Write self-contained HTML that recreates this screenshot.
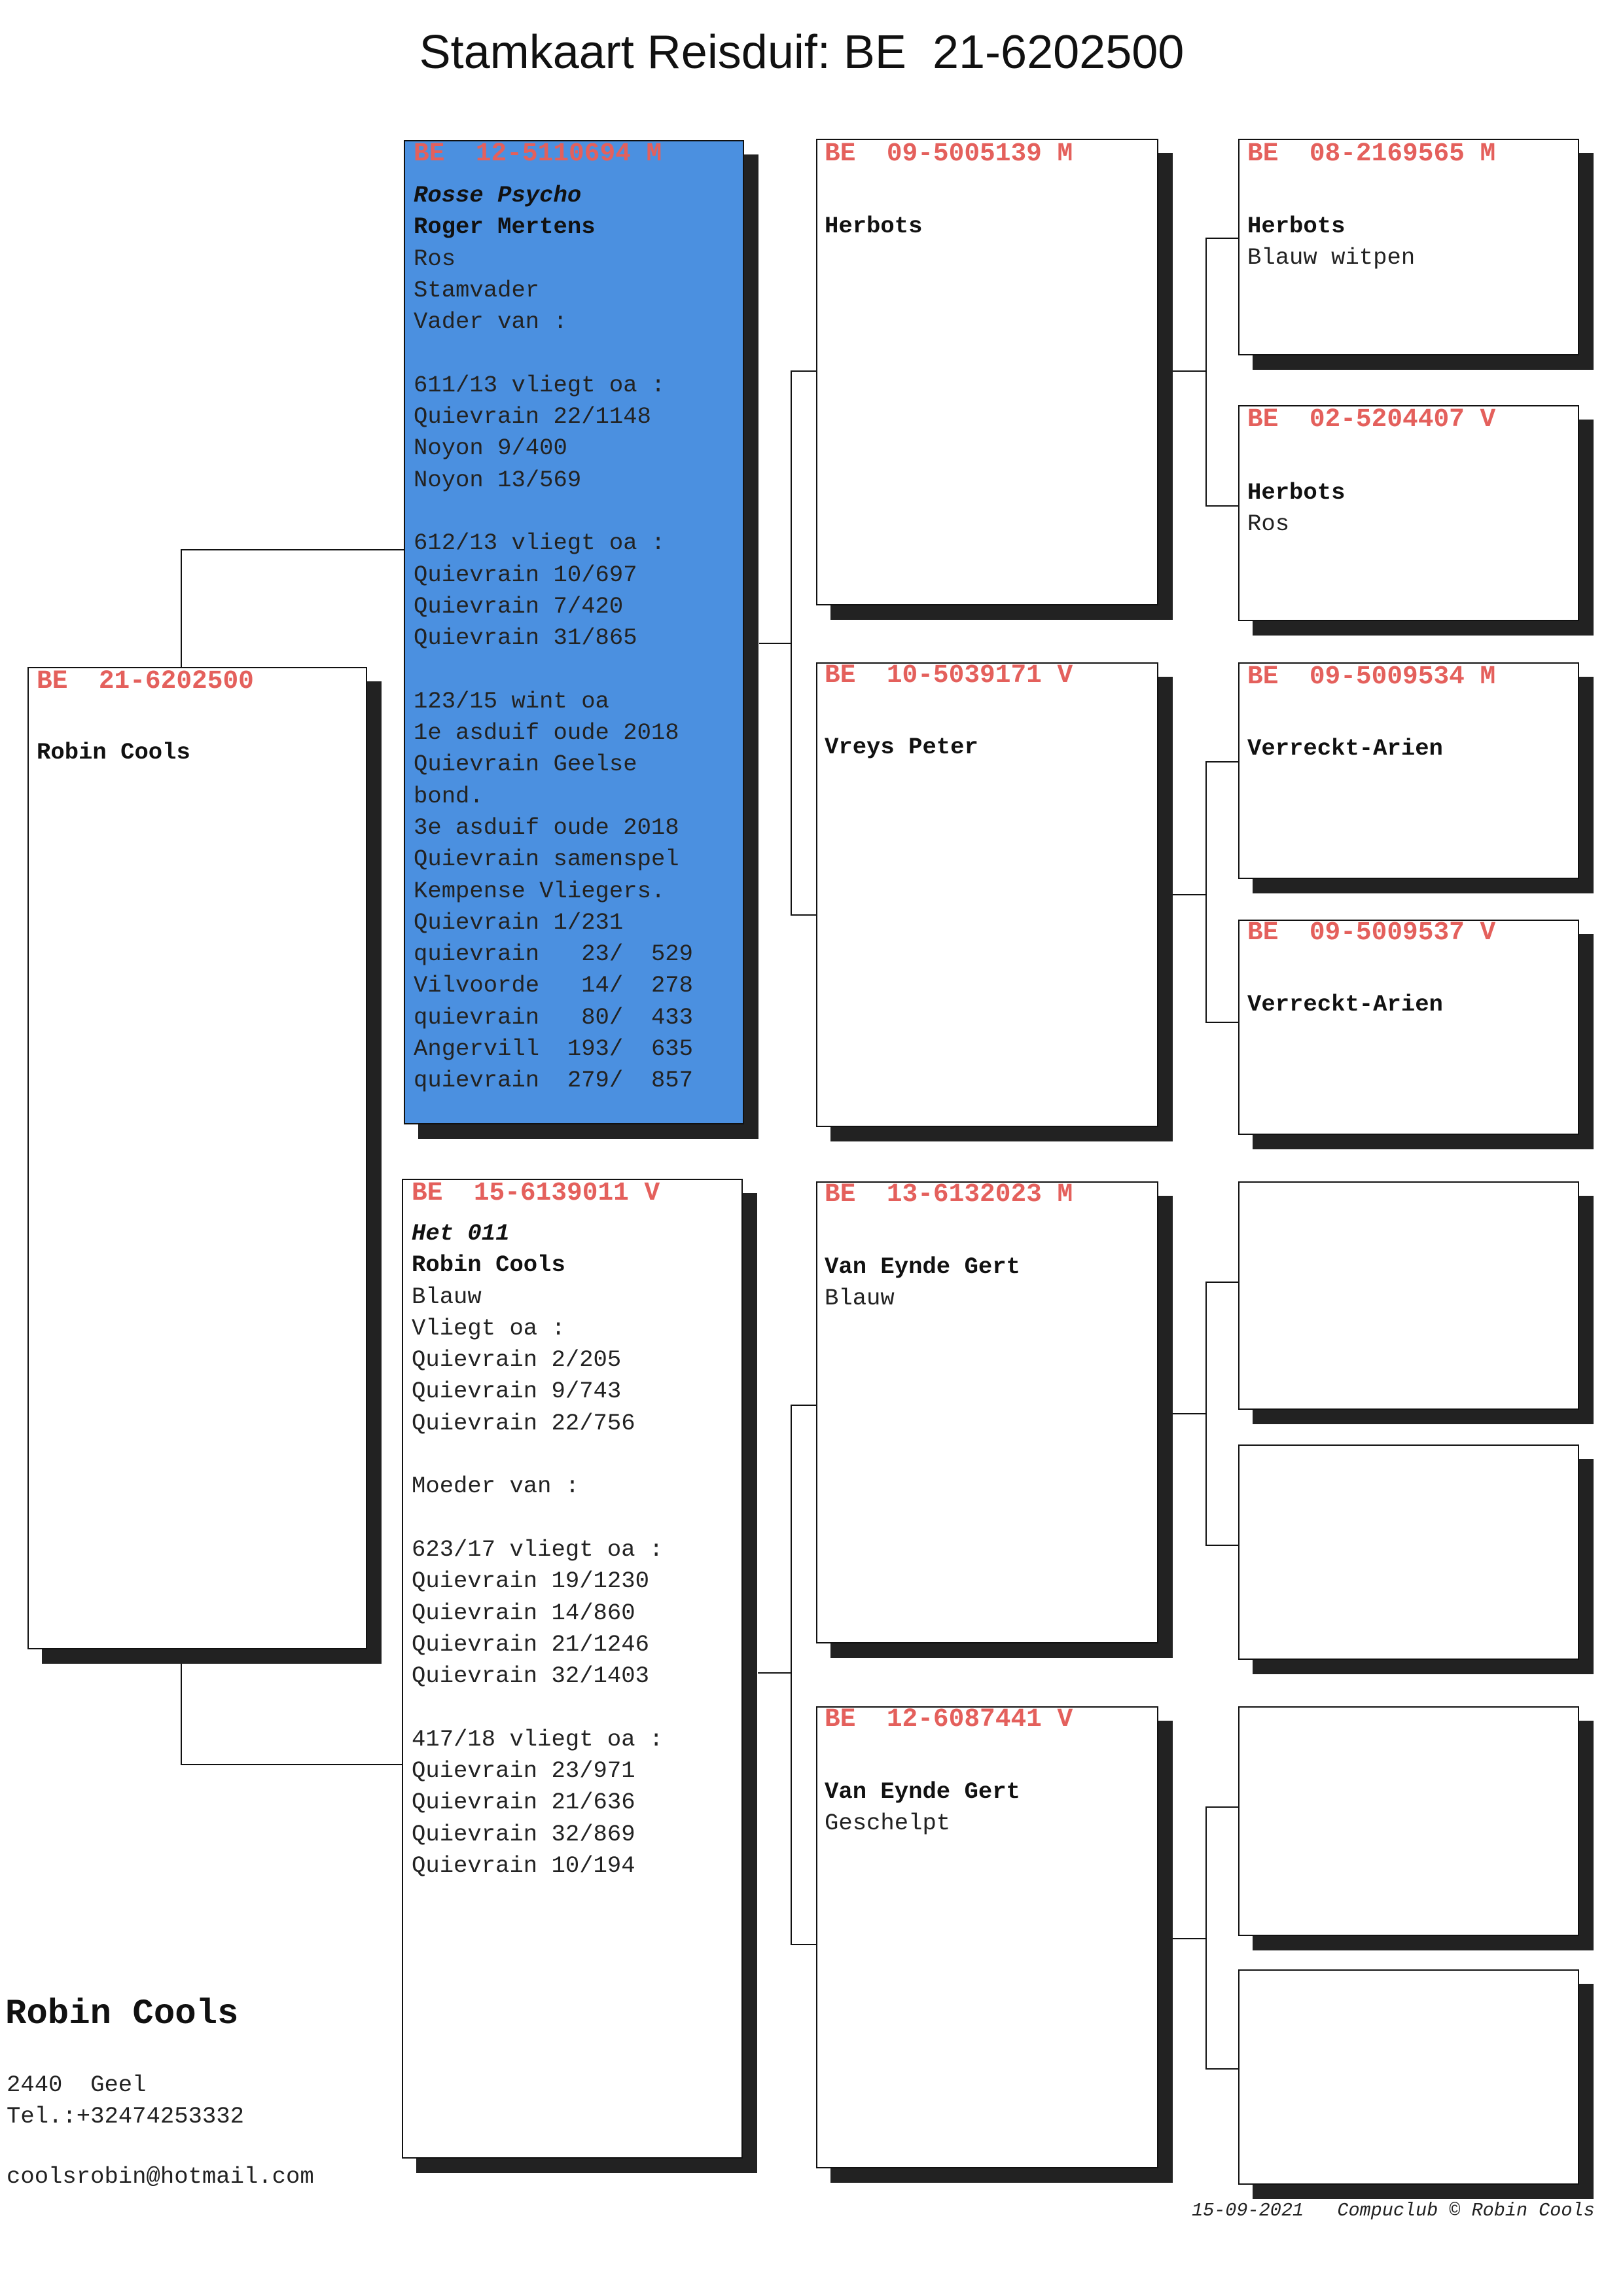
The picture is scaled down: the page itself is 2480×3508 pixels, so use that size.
<!DOCTYPE html>
<html><head><meta charset="utf-8"><style>
body{margin:0;background:#fff}
#p{position:relative;width:2480px;height:3508px;overflow:hidden;background:#fff;font-family:"Liberation Mono",monospace}
.b{position:absolute;border:2px solid #111;background:#fff;box-shadow:22px 22px 0 #222;box-sizing:border-box}
.l{position:absolute;background:#111}
.t{position:absolute;white-space:pre;font-size:35.6px;line-height:48.3px;color:#222}
.h{position:absolute;white-space:pre;font-size:39.5px;line-height:48px;color:#e4605c;font-weight:bold}
.bo{font-weight:bold;color:#111}
.it{font-style:italic}
</style></head><body><div id="p">
<div style="position:absolute;left:0;width:2450px;top:36px;text-align:center;white-space:pre;font-family:'Liberation Sans',sans-serif;font-size:72px;line-height:88px;color:#111">Stamkaart Reisduif: BE  21-6202500</div>

<!-- connectors -->
<div class="l" style="left:276px;top:840px;width:2px;height:180px"></div>
<div class="l" style="left:276px;top:839px;width:342px;height:2px"></div>
<div class="l" style="left:276px;top:2520px;width:2px;height:177px"></div>
<div class="l" style="left:276px;top:2695px;width:340px;height:2px"></div>

<div class="l" style="left:1208px;top:567px;width:2px;height:832px"></div>
<div class="l" style="left:1208px;top:566px;width:40px;height:2px"></div>
<div class="l" style="left:1208px;top:1397px;width:40px;height:2px"></div>
<div class="l" style="left:1160px;top:982px;width:50px;height:2px"></div>

<div class="l" style="left:1208px;top:2147px;width:2px;height:825px"></div>
<div class="l" style="left:1208px;top:2146px;width:40px;height:2px"></div>
<div class="l" style="left:1208px;top:2970px;width:40px;height:2px"></div>
<div class="l" style="left:1158px;top:2555px;width:52px;height:2px"></div>

<div class="l" style="left:1842px;top:364px;width:2px;height:410px"></div>
<div class="l" style="left:1842px;top:363px;width:52px;height:2px"></div>
<div class="l" style="left:1842px;top:772px;width:52px;height:2px"></div>
<div class="l" style="left:1792px;top:566px;width:52px;height:2px"></div>

<div class="l" style="left:1842px;top:1164px;width:2px;height:399px"></div>
<div class="l" style="left:1842px;top:1163px;width:52px;height:2px"></div>
<div class="l" style="left:1842px;top:1561px;width:52px;height:2px"></div>
<div class="l" style="left:1792px;top:1366px;width:52px;height:2px"></div>

<div class="l" style="left:1842px;top:1959px;width:2px;height:403px"></div>
<div class="l" style="left:1842px;top:1958px;width:52px;height:2px"></div>
<div class="l" style="left:1842px;top:2360px;width:52px;height:2px"></div>
<div class="l" style="left:1792px;top:2159px;width:52px;height:2px"></div>

<div class="l" style="left:1842px;top:2761px;width:2px;height:401px"></div>
<div class="l" style="left:1842px;top:2760px;width:52px;height:2px"></div>
<div class="l" style="left:1842px;top:3160px;width:52px;height:2px"></div>
<div class="l" style="left:1792px;top:2961px;width:52px;height:2px"></div>

<!-- boxes -->
<div class="b" style="left:42px;top:1019px;width:519px;height:1501px"></div>
<div class="b" style="left:617px;top:214px;width:520px;height:1504px;background:#4b90e0"></div>
<div class="b" style="left:614px;top:1801px;width:521px;height:1497px"></div>

<div class="b" style="left:1247px;top:212px;width:523px;height:713px"></div>
<div class="b" style="left:1247px;top:1012px;width:523px;height:710px"></div>
<div class="b" style="left:1247px;top:1805px;width:523px;height:706px"></div>
<div class="b" style="left:1247px;top:2607px;width:523px;height:706px"></div>

<div class="b" style="left:1892px;top:212px;width:521px;height:331px"></div>
<div class="b" style="left:1892px;top:619px;width:521px;height:330px"></div>
<div class="b" style="left:1892px;top:1012px;width:521px;height:331px"></div>
<div class="b" style="left:1892px;top:1405px;width:521px;height:329px"></div>
<div class="b" style="left:1892px;top:1805px;width:521px;height:349px"></div>
<div class="b" style="left:1892px;top:2207px;width:521px;height:329px"></div>
<div class="b" style="left:1892px;top:2607px;width:521px;height:351px"></div>
<div class="b" style="left:1892px;top:3009px;width:521px;height:329px"></div>

<!-- texts -->
<div class="h" style="left:56px;top:1017px">BE  21-6202500</div>
<div class="t bo" style="left:56px;top:1126px">Robin Cools</div>

<div class="h" style="left:632px;top:211px">BE  12-5110694 M</div>
<div class="t" style="left:632px;top:275px"><span class="bo it">Rosse Psycho</span>
<span class="bo">Roger Mertens</span>
Ros
Stamvader
Vader van :

611/13 vliegt oa :
Quievrain 22/1148
Noyon 9/400
Noyon 13/569

612/13 vliegt oa :
Quievrain 10/697
Quievrain 7/420
Quievrain 31/865

123/15 wint oa
1e asduif oude 2018
Quievrain Geelse
bond.
3e asduif oude 2018
Quievrain samenspel
Kempense Vliegers.
Quievrain 1/231
quievrain   23/  529
Vilvoorde   14/  278
quievrain   80/  433
Angervill  193/  635
quievrain  279/  857</div>

<div class="h" style="left:629px;top:1799px">BE  15-6139011 V</div>
<div class="t" style="left:629px;top:1861px"><span class="bo it">Het 011</span>
<span class="bo">Robin Cools</span>
Blauw
Vliegt oa :
Quievrain 2/205
Quievrain 9/743
Quievrain 22/756

Moeder van :

623/17 vliegt oa :
Quievrain 19/1230
Quievrain 14/860
Quievrain 21/1246
Quievrain 32/1403

417/18 vliegt oa :
Quievrain 23/971
Quievrain 21/636
Quievrain 32/869
Quievrain 10/194</div>

<div class="h" style="left:1260px;top:211px">BE  09-5005139 M</div>
<div class="t bo" style="left:1260px;top:322px">Herbots</div>
<div class="h" style="left:1260px;top:1008px">BE  10-5039171 V</div>
<div class="t bo" style="left:1260px;top:1118px">Vreys Peter</div>
<div class="h" style="left:1260px;top:1801px">BE  13-6132023 M</div>
<div class="t" style="left:1260px;top:1912px"><span class="bo">Van Eynde Gert</span>
Blauw</div>
<div class="h" style="left:1260px;top:2603px">BE  12-6087441 V</div>
<div class="t" style="left:1260px;top:2714px"><span class="bo">Van Eynde Gert</span>
Geschelpt</div>

<div class="h" style="left:1906px;top:211px">BE  08-2169565 M</div>
<div class="t" style="left:1906px;top:322px"><span class="bo">Herbots</span>
Blauw witpen</div>
<div class="h" style="left:1906px;top:617px">BE  02-5204407 V</div>
<div class="t" style="left:1906px;top:729px"><span class="bo">Herbots</span>
Ros</div>
<div class="h" style="left:1906px;top:1010px">BE  09-5009534 M</div>
<div class="t bo" style="left:1906px;top:1120px">Verreckt-Arien</div>
<div class="h" style="left:1906px;top:1401px">BE  09-5009537 V</div>
<div class="t bo" style="left:1906px;top:1511px">Verreckt-Arien</div>

<div class="t bo" style="left:8px;top:3048px;font-size:54px;line-height:60px">Robin Cools</div>
<div class="t" style="left:10px;top:3162px">2440  Geel
Tel.:+32474253332</div>
<div class="t" style="left:10px;top:3302px">coolsrobin@hotmail.com</div>
<div class="t it" style="left:1821px;top:3362px;font-size:28.5px;line-height:32px">15-09-2021   Compuclub © Robin Cools</div>
</div></body></html>
